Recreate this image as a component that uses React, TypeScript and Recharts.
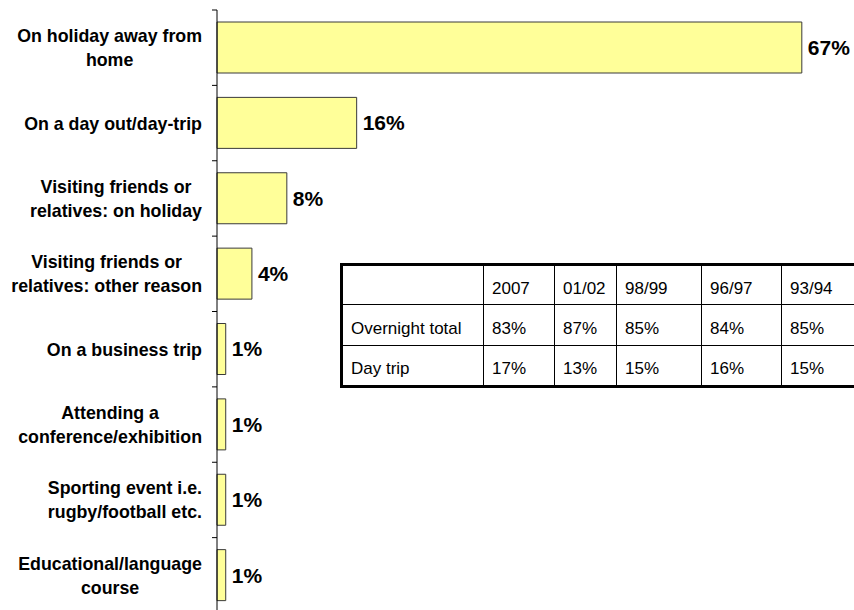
import React from 'react';
import { BarChart, Bar, XAxis, YAxis, LabelList } from 'recharts';

const categories = [
  'On holiday away from\nhome',
  'On a day out/day-trip',
  'Visiting friends or\nrelatives: on holiday',
  'Visiting friends or\nrelatives: other reason',
  'On a business trip',
  'Attending a\nconference/exhibition',
  'Sporting event i.e.\nrugby/football etc.',
  'Educational/language\ncourse',
];
const shares = [67, 16, 8, 4, 1, 1, 1, 1];

const tableYears = ['2007', '01/02', '98/99', '96/97', '93/94'];
const overnightTotal = [83, 87, 85, 84, 85];
const dayTrip = [17, 13, 15, 16, 15];

const data = categories.map((name, i) => ({ name, value: shares[i] }));

const CHART_W = 854;
const CHART_H = 620;
const MARGIN = { top: 10, right: 26, bottom: 7, left: 0 };
const AXIS_X = 217;
const LABEL_RIGHT = 202;
const BAND = (CHART_H - MARGIN.top - MARGIN.bottom) / categories.length;
const LABEL_FONT = 'bold 17.8px "Liberation Sans", Arial, sans-serif';

let measureCtx: CanvasRenderingContext2D | null = null;
function measure(text: string): number {
  if (!measureCtx) {
    const c = document.createElement('canvas');
    measureCtx = c.getContext('2d');
  }
  if (!measureCtx) return text.length * 9;
  measureCtx.font = LABEL_FONT;
  return measureCtx.measureText(text).width;
}

const CategoryTick = (props: any) => {
  const { y, payload, index } = props;
  const lines = String(payload.value).split('\n');
  const block = Math.max(...lines.map(measure));
  const cx = LABEL_RIGHT - block / 2;
  const lh = 24;
  const startY = y - ((lines.length - 1) * lh) / 2 + 6.5;
  const top = y - BAND / 2;
  return (
    <g>
      <line x1={AXIS_X - 5} x2={AXIS_X} y1={top} y2={top} stroke="#000" strokeWidth={1} />
      {index === categories.length - 1 && (
        <line x1={AXIS_X - 5} x2={AXIS_X} y1={y + BAND / 2} y2={y + BAND / 2} stroke="#000" strokeWidth={1} />
      )}
      {lines.map((ln, i) => (
        <text
          key={i}
          x={cx}
          y={startY + i * lh}
          textAnchor="middle"
          style={{ font: LABEL_FONT }}
          fill="#000"
        >
          {ln}
        </text>
      ))}
    </g>
  );
};

const cellStyle: React.CSSProperties = {
  border: '1px solid #000',
  padding: '7px 0 0 8px',
  verticalAlign: 'middle',
  whiteSpace: 'nowrap',
  overflow: 'hidden',
};

const colWidths = [142, 71, 62, 85, 80, 100];

export default function App() {
  return (
    <div
      style={{
        position: 'absolute',
        left: 0,
        top: 0,
        width: 854,
        height: 610,
        overflow: 'hidden',
        background: '#fff',
      }}
    >
      <BarChart
        width={CHART_W}
        height={CHART_H}
        data={data}
        layout="vertical"
        margin={MARGIN}
      >
        <XAxis type="number" domain={[0, 70]} hide />
        <YAxis
          type="category"
          dataKey="name"
          width={AXIS_X}
          interval={0}
          tickLine={false}
          axisLine={{ stroke: '#000', strokeWidth: 1 }}
          tick={<CategoryTick />}
        />
        <Bar
          dataKey="value"
          fill="#FFFF99"
          stroke="#3a3a3a"
          strokeWidth={1}
          barSize={51}
          isAnimationActive={false}
        >
          <LabelList
            dataKey="value"
            position="right"
            offset={6}
            formatter={(v: any) => `${v}%`}
            style={{ font: 'bold 21px "Liberation Sans", Arial, sans-serif', fill: '#000' }}
          />
        </Bar>
      </BarChart>
      <table
        style={{
          position: 'absolute',
          left: 340,
          top: 263,
          borderCollapse: 'collapse',
          tableLayout: 'fixed',
          width: colWidths.reduce((a, b) => a + b, 0),
          border: '3px solid #000',
          fontFamily: '"Liberation Sans", Arial, sans-serif',
          fontSize: 17,
          color: '#000',
          background: '#fff',
        }}
      >
        <colgroup>
          {colWidths.map((w, i) => (
            <col key={i} style={{ width: w }} />
          ))}
        </colgroup>
        <tbody>
          <tr style={{ height: 40 }}>
            <td style={cellStyle}></td>
            {tableYears.map((yr) => (
              <td key={yr} style={cellStyle}>{yr}</td>
            ))}
          </tr>
          <tr style={{ height: 41 }}>
            <td style={cellStyle}>Overnight total</td>
            {overnightTotal.map((v, i) => (
              <td key={i} style={cellStyle}>{`${v}%`}</td>
            ))}
          </tr>
          <tr style={{ height: 41 }}>
            <td style={cellStyle}>Day trip</td>
            {dayTrip.map((v, i) => (
              <td key={i} style={cellStyle}>{`${v}%`}</td>
            ))}
          </tr>
        </tbody>
      </table>
    </div>
  );
}
